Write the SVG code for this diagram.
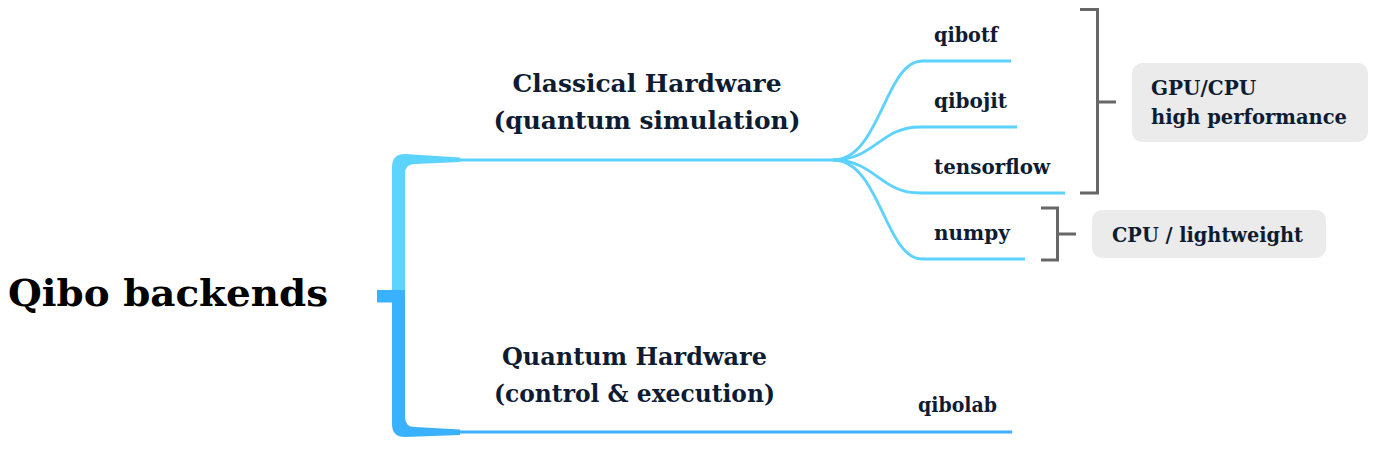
<svg xmlns="http://www.w3.org/2000/svg" width="1376" height="450" viewBox="0 0 1376 450">
<style>
.t{font-family:"DejaVu Serif","Liberation Serif",serif;font-weight:bold;fill:#0e1c33}
.h{font-size:25px;text-anchor:middle}
.l{font-size:20px}
.b{font-size:20px}
.lc{fill:none;stroke:#5cd2ff;stroke-width:2.8;stroke-linecap:butt}
.dc{fill:none;stroke:#3cb0ff;stroke-width:2.8}
.gb{fill:none;stroke:#676767;stroke-width:3}
.box{fill:#ebebeb}
</style>
<rect width="1376" height="450" fill="#fff"/>
<g id="root">
<text class="t" x="8" y="306" style="font-size:37px;fill:#000" textLength="320" lengthAdjust="spacingAndGlyphs">Qibo backends</text>
</g>
<g id="connectors">
<path d="M392 290 V167 Q392 154 405 154 L460 157.5 V162 L415 164 Q405 164 405 174 V290 Z" fill="#5dd3ff"/>
<path d="M392 290 V424 Q392 437 405 437 L460 435 V429.5 L415 427 Q405 427 405 417 V290 Z" fill="#3ab1ff"/>
<rect x="377" y="290" width="16" height="12.5" fill="#3ab1ff"/>
<path class="lc" d="M459 160 H836"/>
<path class="dc" d="M459 432 H1012"/>
<path class="lc" d="M833 160 C880 160 885 61 922 61 H1011"/>
<path class="lc" d="M833 160 C875 160 880 127 920 127 H1017"/>
<path class="lc" d="M833 160 C875 160 880 193 920 193 H1065"/>
<path class="lc" d="M833 160 C880 160 885 259 922 259 H1025"/>
<path class="gb" d="M1080 9.5 H1097.5 V193 H1080 M1097.5 102 H1116"/>
<path class="gb" d="M1041 208 H1057.5 V260 H1041 M1057.5 234 H1076"/>
</g>
<g id="classical">
<text class="t h" x="647" y="91.5" textLength="269" lengthAdjust="spacingAndGlyphs">Classical Hardware</text>
<text class="t h" x="647" y="128.5" textLength="307" lengthAdjust="spacingAndGlyphs">(quantum simulation)</text>
</g>
<g id="quantum">
<text class="t h" x="634.5" y="365" textLength="265" lengthAdjust="spacingAndGlyphs">Quantum Hardware</text>
<text class="t h" x="634.5" y="402" textLength="281" lengthAdjust="spacingAndGlyphs">(control &amp; execution)</text>
</g>
<g id="qibotf"><text class="t l" x="934" y="42" textLength="64" lengthAdjust="spacingAndGlyphs">qibotf</text></g>
<g id="qibojit"><text class="t l" x="934" y="108">qibojit</text></g>
<g id="tensorflow"><text class="t l" x="934" y="174" textLength="116" lengthAdjust="spacingAndGlyphs">tensorflow</text></g>
<g id="numpy"><text class="t l" x="934" y="240">numpy</text></g>
<g id="qibolab"><text class="t l" x="918" y="412" textLength="79" lengthAdjust="spacingAndGlyphs">qibolab</text></g>
<g id="gpu">
<rect class="box" x="1132" y="63" width="236" height="79" rx="10"/>
<text class="t b" x="1151" y="95">GPU/CPU</text>
<text class="t b" x="1151" y="123.5" textLength="196" lengthAdjust="spacingAndGlyphs">high performance</text>
</g>
<g id="cpu">
<rect class="box" x="1092" y="210" width="234" height="48" rx="10"/>
<text class="t b" x="1112" y="242" textLength="191" lengthAdjust="spacingAndGlyphs">CPU / lightweight</text>
</g>
</svg>
